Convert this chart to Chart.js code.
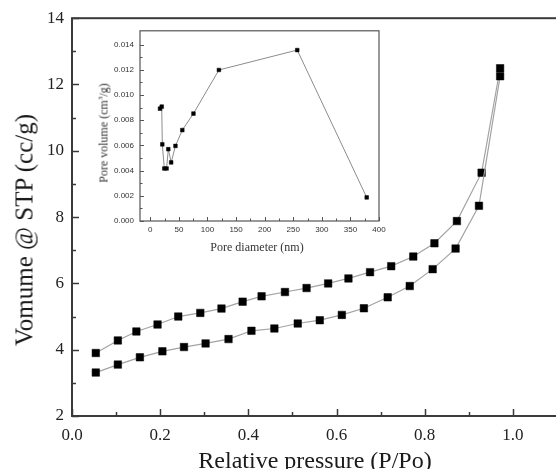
<!DOCTYPE html>
<html>
<head>
<meta charset="utf-8">
<script src="https://cdn.jsdelivr.net/npm/chart.js@4.4.1/dist/chart.umd.min.js"></script>
<style>
    html, body { margin: 0; padding: 0; background: #fff; }
    #wrap { position: relative; width: 556px; height: 469px; overflow: hidden; background: #fff; }
    #mainBox { position: absolute; left: 0; top: 0; width: 566px; height: 469px; }
    #insetBox { position: absolute; left: 90px; top: 20px; width: 300px; height: 240px; }
    .title { position: absolute; white-space: nowrap; font-family: "Liberation Serif", "Times New Roman", serif; color: #1a1a1a; }
    #xTitle { left: 315px; top: 448px; font-size: 24px; line-height: 24px; transform: translateX(-50%); }
    #yTitle { left: 23.5px; top: 230px; font-size: 25px; line-height: 25px; transform: translate(-50%, -50%) rotate(-90deg); }
    #insetXTitle { left: 257px; top: 241px; font-size: 12px; line-height: 12px; transform: translateX(-50%); color: #333; }
    #insetYTitle { left: 101.5px; top: 133px; font-size: 12px; line-height: 12px; transform: translate(-50%, -50%) rotate(-90deg); color: #333; }
</style>
</head>
<body>
<div id="wrap">
    <div id="mainBox"><canvas id="isotherm"></canvas></div>
    <div id="insetBox"><canvas id="poreDist"></canvas></div>
    <div class="title" id="xTitle">Relative pressure (P/Po)</div>
    <div class="title" id="yTitle">Vomume @ STP (cc/g)</div>
    <div class="title" id="insetXTitle">Pore diameter (nm)</div>
    <div class="title" id="insetYTitle">Pore volume (cm<sup style="font-size:7px;vertical-align:5px">3</sup>/g)</div>
</div>
<script>
// adsorption branch (lower curve)
const adsPressure = [0.054, 0.104, 0.154, 0.205, 0.254, 0.303, 0.355, 0.407, 0.459, 0.512,
    0.562, 0.612, 0.662, 0.716, 0.766, 0.818, 0.870, 0.923, 0.971];
const adsVolume = [3.31, 3.55, 3.77, 3.95, 4.08, 4.19, 4.32, 4.57, 4.64, 4.79,
    4.89, 5.05, 5.25, 5.58, 5.92, 6.43, 7.05, 8.34, 12.25];

// desorption branch (upper curve), from high pressure down
const desPressure = [0.971, 0.929, 0.873, 0.822, 0.774, 0.724, 0.676, 0.627, 0.581, 0.532,
    0.483, 0.430, 0.387, 0.339, 0.291, 0.241, 0.194, 0.146, 0.104, 0.054];
const desVolume = [12.49, 9.34, 7.88, 7.21, 6.81, 6.52, 6.34, 6.15, 6.00, 5.86,
    5.74, 5.61, 5.45, 5.24, 5.11, 5.00, 4.76, 4.55, 4.28, 3.90];

// pore size distribution (inset)
const poreDiameter = [17, 20, 21, 24.5, 28.5, 31.5, 36.5, 44, 56, 75.5, 120, 257, 378.5];
const poreVolume = [0.00892, 0.00908, 0.00609, 0.00417, 0.00417, 0.00570, 0.00465,
    0.00596, 0.00722, 0.00853, 0.01199, 0.01357, 0.00187];

// ticks: every value gets a tick mark, labelled ones are drawn longer
const mainXTicks = [0, 0.1, 0.2, 0.3, 0.4, 0.5, 0.6, 0.7, 0.8, 0.9, 1.0, 1.1];
const mainXLabels = ['0.0', '', '0.2', '', '0.4', '', '0.6', '', '0.8', '', '1.0', ''];
const mainYTicks = [2, 3, 4, 5, 6, 7, 8, 9, 10, 11, 12, 13, 14];
const mainYLabels = ['2', '', '4', '', '6', '', '8', '', '10', '', '12', '', '14'];
const insetXTicks = [0, 25, 50, 75, 100, 125, 150, 175, 200, 225, 250, 275, 300, 325, 350, 375, 400];
const insetXLabels = ['0', '', '50', '', '100', '', '150', '', '200', '', '250', '', '300', '', '350', '', '400'];
const insetYTicks = [0, 0.001, 0.002, 0.003, 0.004, 0.005, 0.006, 0.007, 0.008, 0.009, 0.010, 0.011, 0.012, 0.013, 0.014];
const insetYLabels = ['0.000', '', '0.002', '', '0.004', '', '0.006', '', '0.008', '', '0.010', '', '0.012', '', '0.014'];

function toPoints(xs, ys) {
    return xs.map((x, i) => ({x: x, y: ys[i]}));
}

// box around the plot area plus inward-pointing tick marks
const frameTicks = {
    id: 'frameTicks',
    beforeDatasetsDraw(chart, args, opts) {
        const ctx = chart.ctx;
        const a = chart.chartArea;
        ctx.save();
        ctx.strokeStyle = opts.color;
        ctx.lineWidth = opts.width;
        ctx.strokeRect(a.left, a.top, a.right - a.left, a.bottom - a.top);
        ctx.lineWidth = opts.tickWidth;
        for (const scale of Object.values(chart.scales)) {
            for (const t of scale.ticks) {
                const len = t.label ? opts.major : opts.minor;
                const p = Math.round(scale.getPixelForValue(t.value)) + 0.5;
                ctx.beginPath();
                if (scale.isHorizontal()) {
                    ctx.moveTo(p, a.bottom);
                    ctx.lineTo(p, a.bottom - len);
                } else {
                    ctx.moveTo(a.left, p);
                    ctx.lineTo(a.left + len, p);
                }
                ctx.stroke();
            }
        }
        ctx.restore();
    }
};

function fixedTicks(values) {
    return scale => { scale.ticks = values.map(v => ({value: v})); };
}

function axis(min, max, values, labels, font, color, padding, fit) {
    return {
        type: 'linear',
        min: min,
        max: max,
        afterBuildTicks: fixedTicks(values),
        afterFit: fit,
        grid: {display: false, drawTicks: false},
        border: {display: false},
        ticks: {
            autoSkip: false,
            maxRotation: 0,
            padding: padding,
            color: color,
            font: font,
            callback: (value, index) => labels[index]
        }
    };
}

const serif = {family: "'Liberation Serif', 'Times New Roman', serif", size: 17};
const sans = {family: "'Liberation Sans', Arial, sans-serif", size: 8};

new Chart(document.getElementById('isotherm'), {
    type: 'scatter',
    data: {
        datasets: [
            {
                label: 'Adsorption',
                data: toPoints(adsPressure, adsVolume),
                showLine: true,
                borderColor: '#a3a3a3',
                borderWidth: 1.2,
                pointStyle: 'rect',
                pointRadius: 5.3,
                pointBackgroundColor: '#000',
                pointBorderColor: '#000',
                pointBorderWidth: 0.5
            },
            {
                label: 'Desorption',
                data: toPoints(desPressure, desVolume),
                showLine: true,
                borderColor: '#a3a3a3',
                borderWidth: 1.2,
                pointStyle: 'rect',
                pointRadius: 5.3,
                pointBackgroundColor: '#000',
                pointBorderColor: '#000',
                pointBorderWidth: 0.5
            }
        ]
    },
    options: {
        responsive: true,
        maintainAspectRatio: false,
        animation: false,
        devicePixelRatio: 1,
        layout: {padding: {top: 18, right: 7, left: 0, bottom: 0}},
        scales: {
            x: axis(0, 1.1, mainXTicks, mainXLabels, serif, '#222', 9, s => { s.height = 53; }),
            y: axis(2, 14, mainYTicks, mainYLabels, serif, '#222', 8, s => { s.width = 72; })
        },
        plugins: {
            legend: {display: false},
            tooltip: {enabled: false},
            frameTicks: {color: '#3a3a3a', width: 2, tickWidth: 1.5, major: 7, minor: 4}
        }
    },
    plugins: [frameTicks]
});

new Chart(document.getElementById('poreDist'), {
    type: 'scatter',
    data: {
        datasets: [
            {
                label: 'Pore volume',
                data: toPoints(poreDiameter, poreVolume),
                showLine: true,
                borderColor: '#8c8c8c',
                borderWidth: 1,
                pointStyle: 'rect',
                pointRadius: 2.6,
                pointBackgroundColor: '#000',
                pointBorderColor: '#000',
                pointBorderWidth: 0.5
            }
        ]
    },
    options: {
        responsive: true,
        maintainAspectRatio: false,
        animation: false,
        devicePixelRatio: 1,
        layout: {padding: {top: 9, right: 11, left: 0, bottom: 0}},
        scales: {
            x: axis(-18, 400, insetXTicks, insetXLabels, sans, '#333', 4, s => { s.height = 39; }),
            y: axis(0, 0.0151, insetYTicks, insetYLabels, sans, '#333', 6, s => { s.width = 50; })
        },
        plugins: {
            legend: {display: false},
            tooltip: {enabled: false},
            frameTicks: {color: '#555', width: 1.2, tickWidth: 1, major: 4, minor: 2.5}
        }
    },
    plugins: [frameTicks]
});
</script>
</body>
</html>
